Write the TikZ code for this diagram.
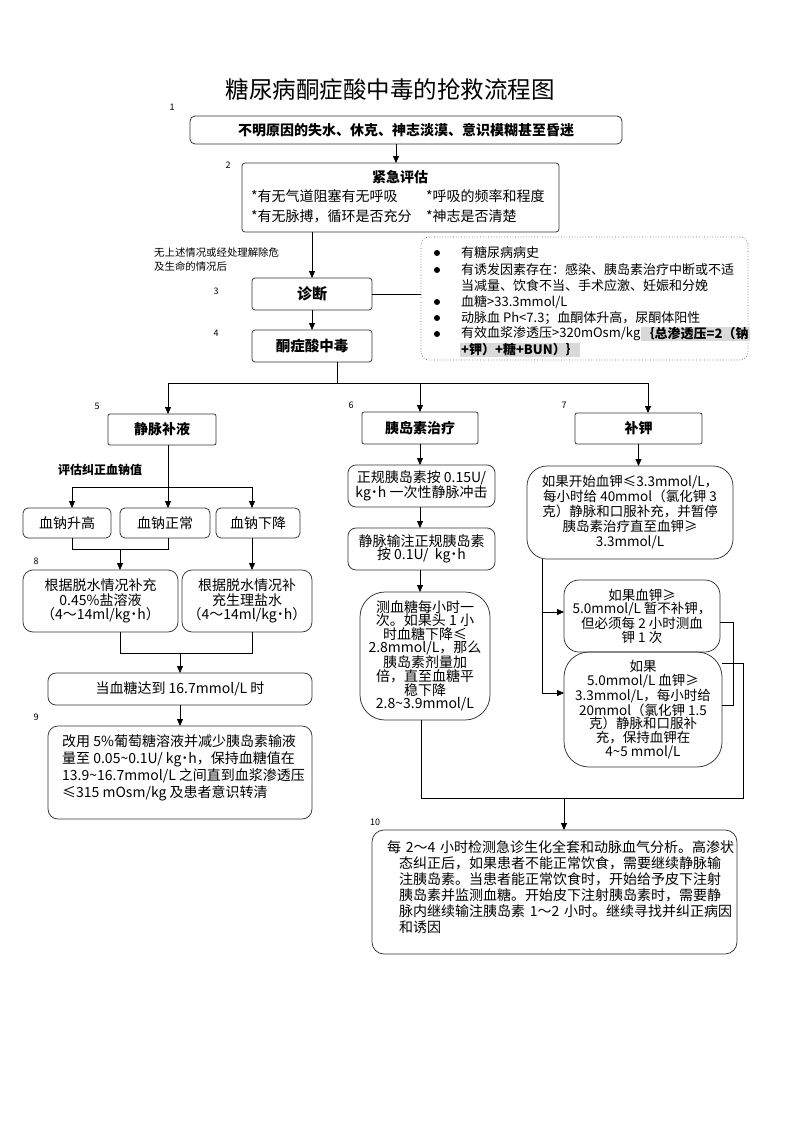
\documentclass[tikz,border=0pt]{standalone}
\usepackage{fontspec}
\setmainfont{Noto Sans CJK SC}
\usetikzlibrary{arrows.meta}
\newcommand{\tld}{\textasciitilde}
\begin{document}
\begin{tikzpicture}[x=1pt,y=-1pt,
  fs/.style 2 args={font=\fontsize{#1}{#2}\selectfont},
  bfs/.style 2 args={font=\fontsize{#1}{#2}\selectfont\bfseries},
  box/.style={draw=black!80, line width=0.75pt, inner sep=0pt, outer sep=0pt, align=center},
  rbox/.style={box, rounded corners=#1},
  ln/.style={draw=black, line width=0.75pt},
  arr/.style={ln, -{Triangle[length=7pt,width=6pt]}},
  lab/.style={fs={9}{10}},
  txt/.style={inner sep=0pt, anchor=west},
]
\fill[white] (0,0) rectangle (793,1122);
\useasboundingbox (0,0) rectangle (793,1122);

\node[fs={23.5}{26}] (title) at (390,90) {糖尿病酮症酸中毒的抢救流程图};

\node[lab] (l1) at (172,107) {1};
\node[lab] (l2) at (228,165) {2};
\node[lab] (l3) at (216,291) {3};
\node[lab] (l4) at (216,333) {4};
\node[lab] (l5) at (97,406) {5};
\node[lab] (l6) at (351,405) {6};
\node[lab] (l7) at (564,405) {7};
\node[lab] (l8) at (36,561) {8};
\node[lab] (l9) at (36,717) {9};
\node[lab] (l10) at (375,822) {10};

% top
\node[rbox=5pt, minimum width=432pt, minimum height=28pt, bfs={14}{16}] (b1) at (406,130) {不明原因的失水、休克、神志淡漠、意识模糊甚至昏迷};

\node[rbox=3pt, minimum width=317pt, minimum height=69pt] (b2) at (400.5,197.5) {};
\node[bfs={14}{16}, inner sep=0pt] (b2t) at (400,177) {紧急评估};
\node[txt, fs={14}{16}] (b2a) at (251,196) {*有无气道阻塞有无呼吸};
\node[txt, fs={14}{16}] (b2b) at (426,196) {*呼吸的频率和程度};
\node[txt, fs={14}{16}] (b2c) at (251,216) {*有无脉搏，循环是否充分};
\node[txt, fs={14}{16}] (b2d) at (426,216) {*神志是否清楚};

\node[txt, fs={10.4}{14}, align=left] (note) at (154,260) {无上述情况或经处理解除危\\及生命的情况后};

\node[rbox=3pt, minimum width=120pt, minimum height=32pt, bfs={15}{16}] (diag) at (312,294) {诊断};
\node[rbox=3pt, minimum width=120pt, minimum height=32pt, bfs={14.5}{16}] (keto) at (312,346) {酮症酸中毒};

\node[draw=black!60, dotted, line width=0.7pt, rounded corners=8pt, minimum width=327pt, minimum height=123pt, inner sep=0pt] (info) at (584.5,298.5) {};
\foreach \yy in {253,270,302,318,334} \fill (437,\yy) circle (3pt);
\node[txt, fs={13}{16}] (i1) at (461,253) {有糖尿病病史};
\node[txt, fs={13}{16}] (i2) at (461,270) {有诱发因素存在：感染、胰岛素治疗中断或不适};
\node[txt, fs={13}{16}] (i3) at (461,286) {当减量、饮食不当、手术应激、妊娠和分娩};
\node[txt, fs={13}{16}] (i4) at (461,302) {血糖>33.3mmol/L};
\node[txt, fs={13}{16}] (i5) at (461,318) {动脉血 Ph<7.3；血酮体升高，尿酮体阳性};
\node[txt, fs={13}{16}] (i6) at (461,334) {有效血浆渗透压>320mOsm/kg};
\node[txt, bfs={13}{16}, fill=black!15, inner sep=1pt] (i6b) at (i6.east) {｛总渗透压=2（钠};
\node[txt, bfs={13}{16}, fill=black!15, inner sep=1pt] (i7) at (460,350) {+钾）+糖+BUN）｝};

% left branch
\node[rbox=2pt, minimum width=108pt, minimum height=31pt, bfs={14}{16}] (fluid) at (162,429.5) {静脉补液};
\node[txt, bfs={12}{14}] (evalna) at (58,470) {评估纠正血钠值};
\node[rbox=5pt, minimum width=88pt, minimum height=30pt, fs={14}{16}] (nh) at (67,523) {血钠升高};
\node[rbox=5pt, minimum width=90pt, minimum height=30pt, fs={14}{16}] (nn) at (165,523) {血钠正常};
\node[rbox=5pt, minimum width=84pt, minimum height=30pt, fs={14}{16}] (nl) at (258,523) {血钠下降};
\node[rbox=10pt, minimum width=155pt, minimum height=62pt, fs={14}{14.5}] (s1) at (100.5,601) {根据脱水情况补充\\0.45\%盐溶液\\（4～14ml/kg˙h）};
\node[rbox=10pt, minimum width=130pt, minimum height=62pt, fs={14}{14.5}] (s2) at (247,601) {根据脱水情况补\\充生理盐水\\（4～14ml/kg˙h）};
\node[rbox=8pt, minimum width=264pt, minimum height=32pt, fs={14}{16}] (g167) at (180,689) {当血糖达到 16.7mmol/L 时};
\node[rbox=10pt, minimum width=264pt, minimum height=93pt] (b9) at (180,772.5) {};
\node[txt, fs={14}{17}, align=left] (b9t) at (62,767.5) {改用 5\%葡萄糖溶液并减少胰岛素输液\\量至 0.05\tld0.1U/ kg˙h，保持血糖值在\\13.9\tld16.7mmol/L 之间直到血浆渗透压\\≤315 mOsm/kg 及患者意识转清};

% middle branch
\node[rbox=2pt, minimum width=116pt, minimum height=32pt, bfs={14}{16}] (ins) at (420,428) {胰岛素治疗};
\node[rbox=8pt, minimum width=147pt, minimum height=42pt, fs={14}{14}] (ins1) at (421.5,486) {正规胰岛素按 0.15U/\\kg˙h 一次性静脉冲击};
\node[rbox=8pt, minimum width=147pt, minimum height=42pt, fs={14}{13.5}] (ins2) at (421.5,549) {静脉输注正规胰岛素\\按 0.1U/\ \ kg˙h};
\node[rbox=25pt, minimum width=130pt, minimum height=128pt, fs={14}{13.3}] (ins3) at (425,656) {测血糖每小时一\\次。如果头 1 小\\时血糖下降≤\\2.8mmol/L，那么\\胰岛素剂量加\\倍，直至血糖平\\稳下降\\2.8\tld3.9mmol/L};

% right branch
\node[rbox=2pt, minimum width=127pt, minimum height=31pt, bfs={14}{16}] (pot) at (638.5,428.5) {补钾};
\node[rbox=20pt, minimum width=206pt, minimum height=93pt, fs={13.5}{15}] (k1) at (630,512.5) {如果开始血钾≤3.3mmol/L，\\每小时给 40mmol（氯化钾 3\\克）静脉和口服补充，并暂停\\胰岛素治疗直至血钾≥\\3.3mmol/L};
\node[rbox=15pt, minimum width=156pt, minimum height=72pt, fs={13.5}{13.5}] (k2) at (642,616) {如果血钾≥\\5.0mmol/L 暂不补钾，\\但必须每 2 小时测血\\钾 1 次};
\node[rbox=25pt, minimum width=158pt, minimum height=115pt, fs={13.5}{13.7}] (k3) at (643,709.5) {如果\\5.0mmol/L 血钾≥\\3.3mmol/L，每小时给\\20mmol（氯化钾 1.5\\克）静脉和口服补\\充，保持血钾在\\4\tld5 mmol/L};

% bottom
\node[rbox=12pt, minimum width=365pt, minimum height=124pt] (b10) at (554.5,892) {};
\node[txt, fs={14}{16}, text width=345pt, align=left] (b10t) at (399,887) {\hspace*{-12pt}每 2～4 小时检测急诊生化全套和动脉血气分析。高渗状\\态纠正后，如果患者不能正常饮食，需要继续静脉输\\注胰岛素。当患者能正常饮食时，开始给予皮下注射\\胰岛素并监测血糖。开始皮下注射胰岛素时，需要静\\脉内继续输注胰岛素 1～2 小时。继续寻找并纠正病因\\和诱因};

% connectors
\coordinate (c1) at (396,0);
\draw[arr] (b1.south -| c1) -- (b2.north -| c1);
\draw[arr] (b2.south -| diag) -- (diag.north);
\draw[arr] (diag) -- (keto);
\draw[ln] (diag) -- (diag -| info.west);

\coordinate (jM) at (337,383);
\coordinate (jL) at (168,383);
\coordinate (jC) at (420,383);
\coordinate (jR) at (648,383);
\draw[ln] (keto.south -| jM) -- (jM);
\draw[ln] (jL) -- (jR);
\draw[arr] (jL) -- (jL |- fluid.north);
\draw[arr] (jC) -- (ins.north);
\draw[arr] (jR) -- (jR |- pot.north);

\coordinate (na) at (168,487);
\coordinate (naL) at (72,487);
\coordinate (naR) at (252,487);
\draw[ln] (fluid.south -| na) -- (na);
\draw[ln] (naL) -- (naR);
\draw[arr] (naL) -- (naL |- nh.north);
\draw[arr] (na) -- (na |- nn.north);
\draw[arr] (naR) -- (naR |- nl.north);
\coordinate (m1) at (72,549);
\coordinate (m2) at (168,549);
\coordinate (m3) at (120,549);
\draw[ln] (nh.south -| m1) -- (m1) -- (m2) -- (nn.south -| m2);
\draw[arr] (m3) -- (m3 |- s1.north);
\draw[arr] (nl.south -| naR) -- (naR |- s2.north);
\coordinate (q1) at (120,653);
\coordinate (q2) at (252,653);
\coordinate (q3) at (180,653);
\draw[ln] (s1.south -| q1) -- (q1) -- (q2) -- (s2.south -| q2);
\draw[arr] (q3) -- (g167.north);
\draw[arr] (g167) -- (b9);

\draw[arr] (ins.south) -- (ins.south |- ins1.north);
\draw[arr] (ins.south |- ins1.south) -- (ins.south |- ins2.north);
\draw[arr] (ins.south |- ins2.south) -- (ins.south |- ins3.north);
\coordinate (w1) at (421,798);
\coordinate (w2) at (743,798);
\coordinate (w3) at (743,663);
\coordinate (w4) at (564,798);
\draw[ln] (ins3.south -| w1) -- (w1) -- (w2) -- (w3) -- (w3 -| k3.east);
\draw[arr] (w4) -- (w4 |- b10.north);

\draw[arr] (pot.south) -- (pot.south |- k1.north);
\coordinate (v1) at (542,612);
\coordinate (v2) at (542,693);
\coordinate (u1) at (733,622);
\coordinate (u2) at (733,705);
\draw[ln] (k1.south -| v1) -- (v2);
\draw[arr] (v1) -- (v1 -| k2.west);
\draw[arr] (v2) -- (v2 -| k3.west);
\draw[ln] (k2.east |- u1) -- (u1) -- (u2) -- (u2 -| k3.east);
\end{tikzpicture}
\end{document}
